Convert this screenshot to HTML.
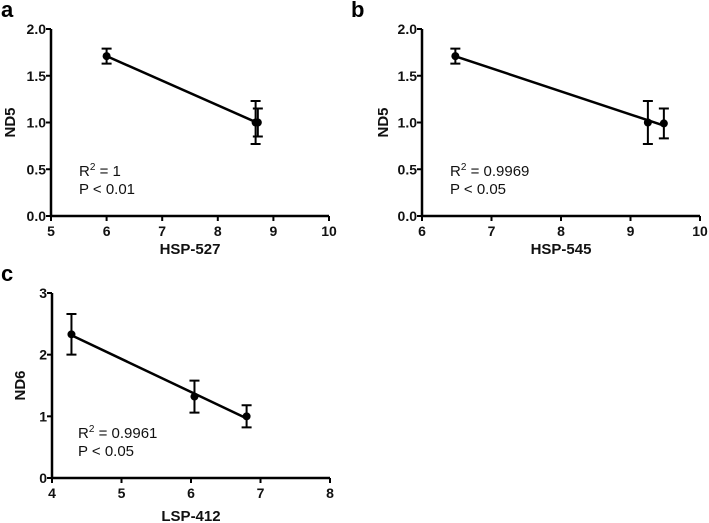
<!DOCTYPE html>
<html><head><meta charset="utf-8"><style>
body{margin:0;background:#fff}
svg{display:block;font-family:"Liberation Sans",Arial,sans-serif}
.tk{font-size:14px;font-weight:bold;fill:#111}
.tt{font-size:15px;font-weight:bold;fill:#111}
.an{font-size:15px;fill:#111}
.pl{font-size:22px;font-weight:bold;fill:#000}
</style></head><body>
<svg id="s" width="709" height="523" viewBox="0 0 709 523"></svg>
<script>
const aX=[6,8.68,8.72], aY=[1.71,1.0,1.0], aE=[0.08,0.23,0.15];
const bX=[6.48,9.25,9.48], bY=[1.71,1.0,0.99], bE=[0.08,0.23,0.16];
const cX=[4.28,6.05,6.8], cY=[2.33,1.32,1.0], cE=[0.33,0.26,0.18];
const aXT=[5,6,7,8,9,10], aYT=["0.0","0.5","1.0","1.5","2.0"];
const bXT=[6,7,8,9,10], bYT=["0.0","0.5","1.0","1.5","2.0"];
const cXT=[4,5,6,7,8], cYT=["0","1","2","3"];
const NS="http://www.w3.org/2000/svg", S=document.getElementById('s');
function mk(t,a,p){const e=document.createElementNS(NS,t);for(const k in a)e.setAttribute(k,a[k]);(p||S).appendChild(e);return e;}
function panel(o){
  const g=mk('g',{});
  
  
  const sx=v=>o.x0+(v-o.xmin)/(o.xmax-o.xmin)*(o.x1-o.x0);
  const sy=v=>o.y0-(v-o.ymin)/(o.ymax-o.ymin)*(o.y0-o.y1);
  const ax=mk('path',{d:`M${o.x0} ${o.y1}V${o.y0}H${o.x1}`,stroke:'#000','stroke-width':2.5,fill:'none'},g);
  
  
  o.xt.forEach(v=>{mk('line',{x1:sx(v),x2:sx(v),y1:o.y0,y2:o.y0+5,stroke:'#000','stroke-width':2},g);
    const t=mk('text',{x:sx(v),y:o.y0+20,'text-anchor':'middle',class:'tk'},g);t.textContent=v;
    
    });
  o.yt.forEach(v=>{const y=sy(parseFloat(v));mk('line',{x1:o.x0-5,x2:o.x0,y1:y,y2:y,stroke:'#000','stroke-width':2},g);
    const t=mk('text',{x:o.x0-5,y:y+5,'text-anchor':'end',class:'tk'},g);t.textContent=v;
    
    });
  const n=o.X.length,mx=o.X.reduce((a,b)=>a+b)/n,my=o.Y.reduce((a,b)=>a+b)/n;
  let num=0,den=0;for(let i=0;i<n;i++){num+=(o.X[i]-mx)*(o.Y[i]-my);den+=(o.X[i]-mx)**2;}
  const m=num/den,b=my-m*mx,xa=Math.min(...o.X),xb=Math.max(...o.X);
  const ln=mk('line',{x1:sx(xa),y1:sy(m*xa+b),x2:sx(xb),y2:sy(m*xb+b),stroke:'#000','stroke-width':2.5},g);
  
  
  for(let i=0;i<n;i++){const x=sx(o.X[i]),y=sy(o.Y[i]),t=sy(o.Y[i]+o.E[i]),bt=sy(o.Y[i]-o.E[i]);
    const eb=mk('path',{d:`M${x} ${t}V${bt}M${x-5} ${t}H${x+5}M${x-5} ${bt}H${x+5}`,stroke:'#000','stroke-width':2,fill:'none'},g);
    
    
    const c=mk('circle',{cx:x,cy:y,r:4,fill:'#000'},g);
    
    }
  const xt=mk('text',{x:(o.x0+o.x1)/2,y:o.xty,'text-anchor':'middle',class:'tt'},g);xt.textContent=o.xl;
  
  
  const yc=(o.y0+o.y1)/2;
  const yt=mk('text',{x:o.ytx,y:yc,'text-anchor':'middle',class:'tt',transform:`rotate(-90 ${o.ytx} ${yc})`},g);yt.textContent=o.yl;
  
  
  const r=mk('text',{x:o.ax,y:o.ay,class:'an'},g);r.innerHTML='R<tspan dy="-6" font-size="10">2</tspan><tspan dy="6"> = '+o.r2+'</tspan>';
  
  
  const p=mk('text',{x:o.ax,y:o.ay+18,class:'an'},g);p.textContent=o.p;
  
  
  const L=mk('text',{x:o.lx,y:o.ly,class:'pl'},g);L.textContent=o.id;
  
  
}
panel({id:'a',X:aX,Y:aY,E:aE,xt:aXT,yt:aYT,x0:51,x1:329,y0:216,y1:29,xmin:5,xmax:10,ymin:0,ymax:2,xl:'HSP-527',yl:'ND5',xty:254,ytx:15,ax:79,ay:176,r2:'1',p:'P < 0.01',lx:1,ly:17});
panel({id:'b',X:bX,Y:bY,E:bE,xt:bXT,yt:bYT,x0:422,x1:700,y0:216,y1:29,xmin:6,xmax:10,ymin:0,ymax:2,xl:'HSP-545',yl:'ND5',xty:254,ytx:388,ax:450,ay:176,r2:'0.9969',p:'P < 0.05',lx:351,ly:17});
panel({id:'c',X:cX,Y:cY,E:cE,xt:cXT,yt:cYT,x0:52,x1:330,y0:478,y1:293,xmin:4,xmax:8,ymin:0,ymax:3,xl:'LSP-412',yl:'ND6',xty:521,ytx:25,ax:78,ay:438,r2:'0.9961',p:'P < 0.05',lx:1,ly:281});
</script>
</body></html>
